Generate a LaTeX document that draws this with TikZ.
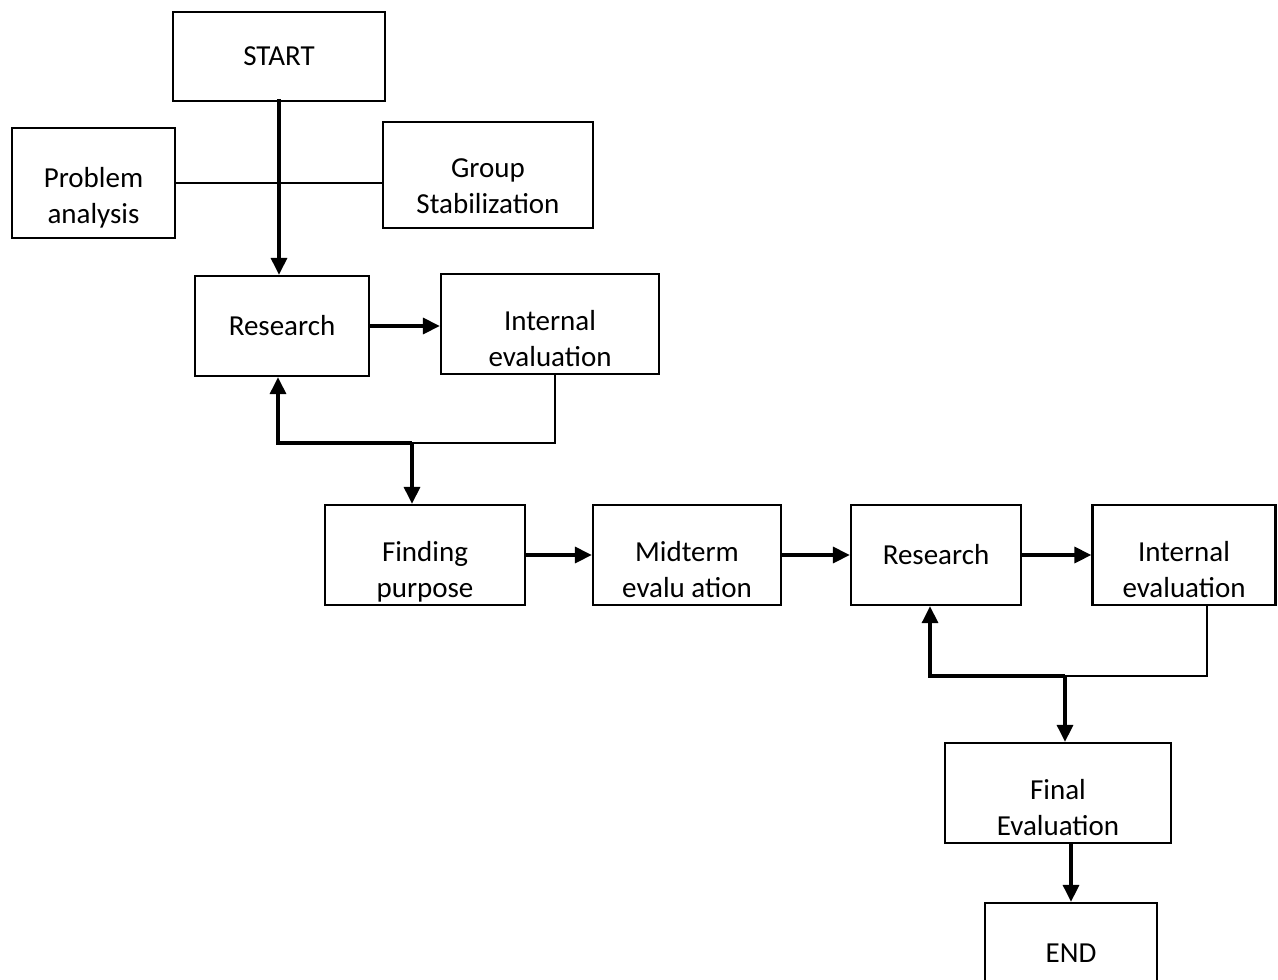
\documentclass[tikz,border=0pt]{standalone}
\usepackage{fontspec}
\setmainfont{Carlito}
\usetikzlibrary{arrows.meta,calc}
\begin{document}
\begin{tikzpicture}[x=0.02cm,y=-0.02cm,
    box/.style={draw,line width=1.3pt,align=center,inner sep=0pt,font=\fontsize{16.5}{20.4}\selectfont},
    two/.style={text height=48.5pt},
    arr/.style={line width=1.8pt,-{Triangle[length=0.34cm,width=0.32cm]}},
    link/.style={line width=1.2pt}]
  \clip (0,0) rectangle (1278,980);
  \node[box,minimum width=4.24cm,minimum height=1.78cm] (start) at (279,56.5) {START};
  \node[box,two,minimum width=3.26cm,minimum height=2.2cm] (prob) at (93.5,183) {Problem\\analysis};
  \node[box,minimum width=4.2cm,minimum height=2.12cm,text height=43.5pt] (group) at (488,175) {Group\\Stabilization};
  \draw[link] (prob.east) -- (prob.east -| group.west);
  \node[box,minimum width=3.48cm,minimum height=2cm] (res1) at (282,326) {Research};
  \node[box,two,minimum width=4.36cm,minimum height=2cm] (int1) at (550,324) {Internal\\evaluation};
  \draw[arr] ([yshift=0.06cm]start.south) -- (start.south |- res1.north);
  \draw[arr] (res1.east) -- (res1.east -| int1.west);

  % first loop back
  \coordinate (j1) at (412,443);
  \draw[link] ([xshift=0.1cm]int1.south) |- (j1);
  \draw[arr] (j1) -| ([xshift=-0.08cm]res1.south);

  \node[box,minimum width=4cm,minimum height=2cm,text height=51pt] (find) at (425,555) {Finding\\purpose};
  \node[box,two,minimum width=3.76cm,minimum height=2cm] (mid) at (687,555) {Midterm\\evalu ation};
  \node[box,minimum width=3.4cm,minimum height=2cm] (res2) at (936,555) {Research};
  \node[box,two,minimum width=3.66cm,minimum height=2cm] (int2) at (1184,555) {Internal\\evaluation};
  \draw[arr] (j1) -- (j1 |- find.north);
  \draw[arr] (find.east) -- (mid.west);
  \draw[arr] (mid.east) -- (res2.west);
  \draw[arr] (res2.east) -- (int2.west);

  % second loop back
  \coordinate (j2) at (1065,676);
  \draw[link] ([xshift=0.46cm]int2.south) |- (j2);
  \draw[arr] (j2) -| ([xshift=-0.12cm]res2.south);

  \node[box,two,minimum width=4.52cm,minimum height=2cm] (final) at (1058,793) {Final\\Evaluation};
  \node[box,minimum width=3.44cm,minimum height=2cm] (end) at (1071,953) {END};
  \draw[arr] (j2) -- (j2 |- final.north);
  \draw[arr] (end.north |- final.south) -- (end.north);
\end{tikzpicture}
\end{document}
